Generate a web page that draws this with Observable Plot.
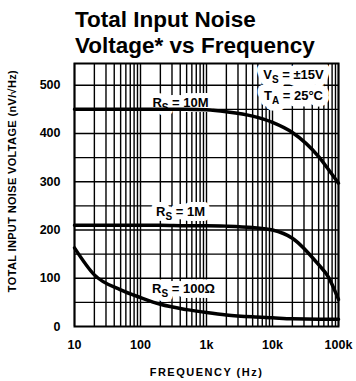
<!DOCTYPE html>
<html><head><meta charset="utf-8">
<script src="https://cdn.jsdelivr.net/npm/d3@7"></script>
<script src="https://cdn.jsdelivr.net/npm/@observablehq/plot@0.6"></script>
<style>
body{margin:0;background:#fff;}
#wrap{width:356px;height:381px;position:relative;overflow:hidden;background:#fff}
#chart{position:absolute;left:0;top:0}
#title{position:absolute;left:0;top:0;box-sizing:border-box;padding:6.5px 0 0 75px;font:bold 22.5px/26px "Liberation Sans",Arial,sans-serif;color:#000;white-space:nowrap}
</style></head><body>
<div id="wrap"><div id="chart"></div><div id="title">Total Input Noise<br>Voltage* vs Frequency</div></div>
<script>
// Frequency points (Hz)
const freq = [10, 20, 50, 100, 200, 500, 1000, 2000, 5000, 10000, 20000, 50000, 70000, 100000];
// Total input noise voltage (nV/√Hz) per source resistance
const rs10M = [450, 450, 450, 450, 450, 450, 449, 445, 436, 423, 402, 352, 326, 297];
const rs1M  = [210, 210, 210, 210, 210, 209, 209, 208, 205, 200, 183, 128, 103, 56];
const rs100 = [163, 107, 76, 60, 46, 35, 29, 24, 20, 18, 16, 15, 15, 15];
const seriesNames = ["10M", "1M", "100"];

// Axis ticks
const xTicks = [10, 100, 1000, 10000, 100000];
const xTickLabels = ["10", "100", "1k", "10k", "100k"];
const yTicks = [0, 100, 200, 300, 400, 500];
const yGrid = [50, 100, 150, 200, 250, 300, 350, 400, 450, 500];

// Curve labels
const labelText = ["R_S = 10M", "R_S = 1M", "R_S = 100Ω"];
const labelFreq = [404, 404, 449];
const labelVal = [463, 237, 79];
const condText = ["V_S = ±15V", "T_A = 25°C"];
const condFreq = [20800, 20800];
const condVal = [521, 479];

const xLabel = "FREQUENCY (Hz)";
const yLabel = "TOTAL INPUT NOISE VOLTAGE (nV/√Hz)";

const rows = [];
[rs10M, rs1M, rs100].forEach((vals, k) => vals.forEach((v, i) => rows.push({s: seriesNames[k], f: freq[i], v})));
const xGrid = [];
for (let dec = 10; dec < 100000; dec *= 10) for (let m = 1; m <= 9; m++) xGrid.push(dec * m);
xGrid.push(100000);
const labels = labelText.map((t, i) => ({t, f: labelFreq[i], v: labelVal[i]}));
const conds = condText.map((t, i) => ({t, f: condFreq[i], v: condVal[i]}));

const font = '"Liberation Sans",Arial,Helvetica,sans-serif';

const chart = Plot.plot({
  width: 356,
  height: 381,
  marginTop: 63,
  marginLeft: 74,
  marginRight: 18,
  marginBottom: 55,
  style: {fontFamily: font, fontSize: "12.5px", fontWeight: "bold", color: "#000", background: "transparent"},
  x: {type: "log", domain: [10, 100000], ticks: xTicks, tickFormat: d => xTickLabels[xTicks.indexOf(d)], tickSize: 0, tickPadding: 14, label: null},
  y: {domain: [0, 545], ticks: yTicks, tickSize: 0, tickPadding: 14, label: null},
  marks: [
    Plot.ruleX(xGrid, {stroke: "#000", strokeWidth: 1.4}),
    Plot.ruleY(yGrid, {stroke: "#000", strokeWidth: 1.4}),
    // white boxes behind annotations
    Plot.text(conds, {x: "f", y: "v", text: "t", fill: "#fff", stroke: "#fff", strokeWidth: 13, fontSize: 13}),
    Plot.text(labels, {x: "f", y: "v", text: "t", fill: "#fff", stroke: "#fff", strokeWidth: 10, fontSize: 13}),
    Plot.line(rows, {x: "f", y: "v", z: "s", stroke: "#000", strokeWidth: 3.5, curve: "monotone-x"}),
    Plot.text(conds, {x: "f", y: "v", text: "t", fill: "#000", fontSize: 13}),
    Plot.text(labels, {x: "f", y: "v", text: "t", fill: "#000", fontSize: 13}),
    Plot.frame({stroke: "#000", strokeWidth: 2}),
    Plot.text([xLabel], {text: d => d, frameAnchor: "bottom", textAnchor: "middle", lineAnchor: "middle", dy: 46, fontSize: 11, fill: "#000", className: "xlab"}),
    Plot.text([yLabel], {text: d => d, frameAnchor: "left", textAnchor: "middle", lineAnchor: "middle", rotate: -90, dx: -62, dy: -14, fontSize: 11, fill: "#000", className: "ylab"})
  ]
});
document.getElementById("chart").appendChild(chart);
chart.querySelectorAll(".xlab text").forEach(t => t.setAttribute("letter-spacing", "1.5"));
chart.querySelectorAll(".ylab text").forEach(t => t.setAttribute("letter-spacing", "0.35"));

// subscripts: "R_S" -> R with subscript S
chart.querySelectorAll("text").forEach(el => {
  const s = el.textContent;
  const m = s.match(/^(.)_(.)(.*)$/);
  if (!m) return;
  el.textContent = "";
  const ns = "http://www.w3.org/2000/svg";
  el.appendChild(document.createTextNode(m[1]));
  const sub = document.createElementNS(ns, "tspan");
  sub.setAttribute("dy", "4"); sub.setAttribute("font-size", "10");
  sub.textContent = m[2];
  el.appendChild(sub);
  const rest = document.createElementNS(ns, "tspan");
  rest.setAttribute("dy", "-4");
  rest.textContent = m[3];
  el.appendChild(rest);
});
</script>
</body></html>
